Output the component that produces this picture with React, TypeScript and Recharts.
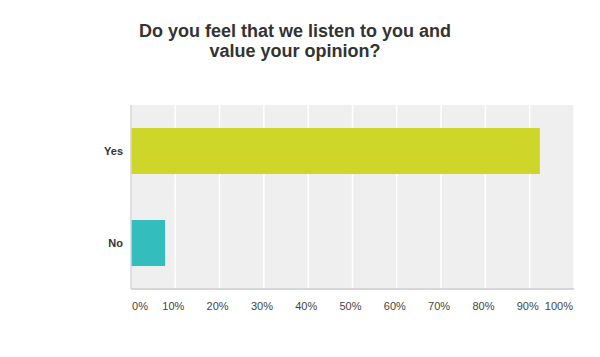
import { BarChart, Bar, XAxis, YAxis, CartesianGrid, Cell } from 'recharts';

const answers = ['Yes', 'No'];
const percents = [92.3, 7.7];
const barColors = ['#cfd62a', '#33bdbd'];
const xTicks = [0, 10, 20, 30, 40, 50, 60, 70, 80, 90, 100];

const data = answers.map((answer, i) => ({ answer, value: percents[i] }));

const font = '"Liberation Sans", Arial, sans-serif';

function PercentTick({ x, y, payload }: any) {
  const v = payload.value;
  const anchor = v === 0 ? 'start' : v === 100 ? 'end' : 'middle';
  const dx = v === 0 ? 1 : v === 100 ? -1 : -2;
  return (
    <text x={x + dx} y={y} dy={13} textAnchor={anchor} fontSize={11} fill="#444" fontFamily={font}>
      {v}%
    </text>
  );
}

function AnswerTick({ x, y, payload }: any) {
  return (
    <text x={x} y={y} dy={4} textAnchor="end" fontSize={11} fontWeight="bold" fill="#333" fontFamily={font}>
      {payload.value}
    </text>
  );
}

export default function App() {
  return (
    <div style={{ position: 'relative', width: 600, height: 357, margin: '-8px 0 0 -8px', background: '#fff' }}>
      <div
        style={{
          position: 'absolute',
          top: 21,
          left: 0,
          width: 590,
          textAlign: 'center',
          fontFamily: font,
          fontWeight: 'bold',
          fontSize: 18,
          lineHeight: '20px',
          color: '#333',
        }}
      >
        Do you feel that we listen to you and
        <br />
        value your opinion?
      </div>
      <BarChart
        width={600}
        height={357}
        data={data}
        layout="vertical"
        margin={{ top: 105, right: 26, left: 0, bottom: 38 }}
        barSize={46}
      >
        <CartesianGrid fill="#efefef" stroke="#ffffff" strokeWidth={1.5} horizontal={false} />
        <XAxis
          type="number"
          domain={[0, 100]}
          ticks={xTicks}
          interval={0}
          tickLine={false}
          axisLine={{ stroke: '#d6d6d6', strokeWidth: 2 }}
          height={30}
          tick={<PercentTick />}
        />
        <YAxis
          type="category"
          dataKey="answer"
          width={131}
          tickLine={false}
          axisLine={{ stroke: '#d6d6d6', strokeWidth: 1.5 }}
          tick={<AnswerTick />}
        />
        <Bar dataKey="value" isAnimationActive={false}>
          {data.map((d, i) => (
            <Cell key={d.answer} fill={barColors[i]} />
          ))}
        </Bar>
      </BarChart>
    </div>
  );
}
